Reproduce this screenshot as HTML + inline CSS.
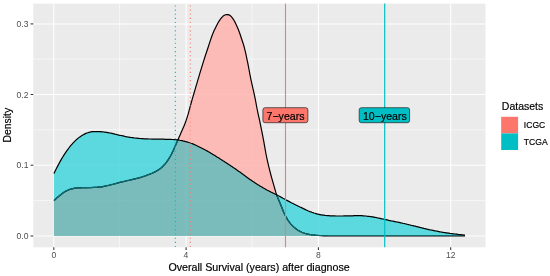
<!DOCTYPE html>
<html><head><meta charset="utf-8">
<style>
html,body{margin:0;padding:0;background:#fff;}
body{width:550px;height:276px;overflow:hidden;}
svg{display:block;}
text{font-family:"Liberation Sans",sans-serif;}
</style></head>
<body>
<svg width="550" height="276" viewBox="0 0 550 276">
<rect x="0" y="0" width="550" height="276" fill="#ffffff"/>
<rect x="33.3" y="3.6" width="452.2" height="243.7" fill="#ebebeb"/>
<g stroke="#ffffff">
<g stroke-width="0.55">
<line x1="33.3" x2="485.5" y1="200.6" y2="200.6"/>
<line x1="33.3" x2="485.5" y1="129.8" y2="129.8"/>
<line x1="33.3" x2="485.5" y1="59.1" y2="59.1"/>
<line x1="119.6" x2="119.6" y1="3.6" y2="247.3"/>
<line x1="252" x2="252" y1="3.6" y2="247.3"/>
<line x1="384.3" x2="384.3" y1="3.6" y2="247.3"/>
</g>
<g stroke-width="1.05">
<line x1="33.3" x2="485.5" y1="236" y2="236"/>
<line x1="33.3" x2="485.5" y1="165.2" y2="165.2"/>
<line x1="33.3" x2="485.5" y1="94.5" y2="94.5"/>
<line x1="33.3" x2="485.5" y1="23.9" y2="23.9"/>
<line x1="53.8" x2="53.8" y1="3.6" y2="247.3"/>
<line x1="186.1" x2="186.1" y1="3.6" y2="247.3"/>
<line x1="318.4" x2="318.4" y1="3.6" y2="247.3"/>
<line x1="450.7" x2="450.7" y1="3.6" y2="247.3"/>
</g>
</g>
<!-- densities -->
<defs>
<clipPath id="ci"><path d="M53.9,236.0 L53.9,200.7 L54.9,199.7 L55.9,198.8 L56.9,197.9 L57.9,197.0 L58.9,196.2 L59.9,195.4 L60.9,194.6 L61.9,193.8 L62.9,193.0 L63.9,192.3 L64.9,191.7 L65.9,191.1 L66.9,190.6 L67.9,190.2 L68.9,189.8 L69.9,189.4 L70.9,189.1 L71.9,188.8 L72.9,188.6 L73.9,188.4 L74.9,188.2 L75.9,188.1 L76.9,188.0 L77.9,187.9 L78.9,187.8 L79.9,187.8 L80.9,187.8 L81.9,187.7 L82.9,187.7 L83.9,187.7 L84.9,187.7 L85.9,187.7 L86.9,187.7 L87.9,187.7 L88.9,187.6 L89.9,187.6 L90.9,187.6 L91.9,187.5 L92.9,187.5 L93.9,187.4 L94.9,187.4 L95.9,187.3 L96.9,187.3 L97.9,187.2 L98.9,187.1 L99.9,187.0 L100.9,186.9 L101.9,186.8 L102.9,186.6 L103.9,186.4 L104.9,186.2 L105.9,186.0 L106.9,185.7 L107.9,185.5 L108.9,185.3 L109.9,185.0 L110.9,184.8 L111.9,184.5 L112.9,184.3 L113.9,184.0 L114.9,183.8 L115.9,183.5 L116.9,183.2 L117.9,182.9 L118.9,182.7 L119.9,182.4 L120.9,182.2 L121.9,181.9 L122.9,181.7 L123.9,181.5 L124.9,181.2 L125.9,181.0 L126.9,180.7 L127.9,180.5 L128.9,180.3 L129.9,180.0 L130.9,179.8 L131.9,179.6 L132.9,179.3 L133.9,179.1 L134.9,178.9 L135.9,178.7 L136.9,178.4 L137.9,178.2 L138.9,177.9 L139.9,177.6 L140.9,177.3 L141.9,177.0 L142.9,176.7 L143.9,176.3 L144.9,176.0 L145.9,175.6 L146.9,175.2 L147.9,174.8 L148.9,174.5 L149.9,174.1 L150.9,173.7 L151.9,173.3 L152.9,172.8 L153.9,172.4 L154.9,171.9 L155.9,171.4 L156.9,170.8 L157.9,170.2 L158.9,169.6 L159.9,168.9 L160.9,168.1 L161.9,167.2 L162.9,166.3 L163.9,165.2 L164.9,164.1 L165.9,162.9 L166.9,161.6 L167.9,160.2 L168.9,158.6 L169.9,157.0 L170.9,155.2 L171.9,153.3 L172.9,151.3 L173.9,149.1 L174.9,146.8 L175.9,144.5 L176.9,142.2 L177.9,139.9 L178.9,137.6 L179.9,135.4 L180.9,133.1 L181.9,130.8 L182.9,128.5 L183.9,126.2 L184.9,123.7 L185.9,121.0 L186.9,118.1 L187.9,114.9 L188.9,111.4 L189.9,107.7 L190.9,104.0 L191.9,100.4 L192.9,96.9 L193.9,93.5 L194.9,90.1 L195.9,86.7 L196.9,83.3 L197.9,79.9 L198.9,76.6 L199.9,73.2 L200.9,69.9 L201.9,66.6 L202.9,63.3 L203.9,60.1 L204.9,57.0 L205.9,54.0 L206.9,51.0 L207.9,48.0 L208.9,44.9 L209.9,41.9 L210.9,38.9 L211.9,36.0 L212.9,33.4 L213.9,31.1 L214.9,29.0 L215.9,26.9 L216.9,24.9 L217.9,23.0 L218.9,21.4 L219.9,19.9 L220.9,18.5 L221.9,17.3 L222.9,16.3 L223.9,15.6 L224.9,15.0 L225.9,14.7 L226.9,14.5 L227.9,14.6 L228.9,14.9 L229.9,15.4 L230.9,16.2 L231.9,17.3 L232.9,18.6 L233.9,20.2 L234.9,21.9 L235.9,24.0 L236.9,26.2 L237.9,28.5 L238.9,31.0 L239.9,33.8 L240.9,36.8 L241.9,39.7 L242.9,42.7 L243.9,46.0 L244.9,49.9 L245.9,54.2 L246.9,58.8 L247.9,63.7 L248.9,69.0 L249.9,74.4 L250.9,79.4 L251.9,83.9 L252.9,88.3 L253.9,92.7 L254.9,97.3 L255.9,102.5 L256.9,108.0 L257.9,112.8 L258.9,117.3 L259.9,121.9 L260.9,126.8 L261.9,131.7 L262.9,136.9 L263.9,142.2 L264.9,147.9 L265.9,153.5 L266.9,158.4 L267.9,162.9 L268.9,167.1 L269.9,171.2 L270.9,175.0 L271.9,178.7 L272.9,182.2 L273.9,185.7 L274.9,189.2 L275.9,192.6 L276.9,195.6 L277.9,198.1 L278.9,200.4 L279.9,202.8 L280.9,205.2 L281.9,207.8 L282.9,210.3 L283.9,212.7 L284.9,214.8 L285.9,216.7 L286.9,218.4 L287.9,220.1 L288.9,221.5 L289.9,222.9 L290.9,224.1 L291.9,225.2 L292.9,226.2 L293.9,227.1 L294.9,227.9 L295.9,228.7 L296.9,229.5 L297.9,230.2 L298.9,230.8 L299.9,231.3 L300.9,231.8 L301.9,232.3 L302.9,232.7 L303.9,233.0 L304.9,233.4 L305.9,233.7 L306.9,233.9 L307.9,234.2 L308.9,234.4 L309.9,234.6 L310.9,234.7 L311.9,234.9 L312.9,235.0 L313.9,235.1 L314.9,235.2 L315.9,235.3 L316.9,235.4 L317.9,235.5 L318.9,235.5 L319.9,235.6 L320.9,235.7 L321.9,235.7 L322.9,235.8 L323.9,235.8 L324.9,235.9 L325.9,235.9 L326.9,235.9 L327.9,236.0 L328.9,236.0 L329.9,236.0 L330.9,236.0 L331.9,236.0 L332.9,236.0 L333.9,236.0 L334.9,236.0 L335.9,236.0 L336.9,236.0 L337.9,236.0 L338.9,236.0 L339.9,236.0 L340.9,236.0 L341.9,236.0 L342.9,236.0 L343.9,236.0 L344.9,236.0 L345.9,236.0 L346.9,236.0 L347.9,236.0 L348.9,236.0 L349.9,236.0 L350.9,236.0 L351.9,236.0 L352.9,236.0 L353.9,236.0 L354.9,236.0 L355.9,236.0 L356.9,236.0 L357.9,236.0 L358.9,236.0 L359.9,236.0 L360.9,236.0 L361.9,236.0 L362.9,236.0 L363.9,236.0 L364.9,236.0 L365.9,236.0 L366.9,236.0 L367.9,236.0 L368.9,236.0 L369.9,236.0 L370.9,236.0 L371.9,236.0 L372.9,236.0 L373.9,236.0 L374.9,236.0 L375.9,236.0 L376.9,236.0 L377.9,236.0 L378.9,236.0 L379.9,236.0 L380.9,236.0 L381.9,236.0 L382.9,236.0 L383.9,236.0 L384.9,236.0 L385.9,236.0 L386.9,236.0 L387.9,236.0 L388.9,236.0 L389.9,236.0 L390.9,236.0 L391.9,236.0 L392.9,236.0 L393.9,236.0 L394.9,236.0 L395.9,236.0 L396.9,236.0 L397.9,236.0 L398.9,236.0 L399.9,236.0 L400.9,236.0 L401.9,236.0 L402.9,236.0 L403.9,236.0 L404.9,236.0 L405.9,236.0 L406.9,236.0 L407.9,236.0 L408.9,236.0 L409.9,236.0 L410.9,236.0 L411.9,236.0 L412.9,236.0 L413.9,236.0 L414.9,236.0 L415.9,236.0 L416.9,236.0 L417.9,236.0 L418.9,236.0 L419.9,236.0 L420.9,236.0 L421.9,236.0 L422.9,236.0 L423.9,236.0 L424.9,236.0 L425.9,236.0 L426.9,236.0 L427.9,236.0 L428.9,236.0 L429.9,236.0 L430.9,236.0 L431.9,236.0 L432.9,236.0 L433.9,236.0 L434.9,236.0 L435.9,236.0 L436.9,236.0 L437.9,236.0 L438.9,236.0 L439.9,236.0 L440.9,236.0 L441.9,236.0 L442.9,236.0 L443.9,236.0 L444.9,236.0 L445.9,236.0 L446.9,236.0 L447.9,236.0 L448.9,236.0 L449.9,236.0 L450.9,236.0 L451.9,236.0 L452.9,236.0 L453.9,236.0 L454.9,236.0 L455.9,236.0 L456.9,236.0 L457.9,236.0 L458.9,236.0 L459.9,236.0 L460.9,236.0 L461.9,236.0 L462.9,236.0 L463.9,236.0 L464.9,236.0 L465.0,236.0 L465.0,236.0 Z"/></clipPath>
<clipPath id="ct"><path d="M53.9,236.0 L53.9,173.6 L54.9,171.5 L55.9,169.5 L56.9,167.5 L57.9,165.6 L58.9,163.7 L59.9,161.9 L60.9,160.1 L61.9,158.4 L62.9,156.7 L63.9,155.1 L64.9,153.6 L65.9,152.1 L66.9,150.7 L67.9,149.3 L68.9,148.0 L69.9,146.7 L70.9,145.4 L71.9,144.3 L72.9,143.2 L73.9,142.1 L74.9,141.1 L75.9,140.1 L76.9,139.2 L77.9,138.4 L78.9,137.6 L79.9,136.9 L80.9,136.2 L81.9,135.6 L82.9,135.0 L83.9,134.4 L84.9,133.9 L85.9,133.4 L86.9,133.0 L87.9,132.7 L88.9,132.4 L89.9,132.2 L90.9,131.9 L91.9,131.7 L92.9,131.6 L93.9,131.6 L94.9,131.6 L95.9,131.6 L96.9,131.6 L97.9,131.6 L98.9,131.6 L99.9,131.6 L100.9,131.7 L101.9,131.8 L102.9,131.9 L103.9,132.0 L104.9,132.1 L105.9,132.3 L106.9,132.4 L107.9,132.6 L108.9,132.8 L109.9,133.0 L110.9,133.2 L111.9,133.4 L112.9,133.6 L113.9,133.8 L114.9,134.1 L115.9,134.3 L116.9,134.6 L117.9,134.8 L118.9,135.1 L119.9,135.3 L120.9,135.5 L121.9,135.7 L122.9,135.9 L123.9,136.1 L124.9,136.4 L125.9,136.6 L126.9,136.8 L127.9,137.0 L128.9,137.1 L129.9,137.3 L130.9,137.5 L131.9,137.6 L132.9,137.7 L133.9,137.9 L134.9,138.0 L135.9,138.1 L136.9,138.2 L137.9,138.3 L138.9,138.4 L139.9,138.5 L140.9,138.6 L141.9,138.7 L142.9,138.7 L143.9,138.8 L144.9,138.8 L145.9,138.9 L146.9,138.9 L147.9,138.9 L148.9,139.0 L149.9,139.0 L150.9,139.0 L151.9,139.1 L152.9,139.1 L153.9,139.1 L154.9,139.1 L155.9,139.1 L156.9,139.1 L157.9,139.2 L158.9,139.2 L159.9,139.2 L160.9,139.2 L161.9,139.2 L162.9,139.2 L163.9,139.2 L164.9,139.3 L165.9,139.3 L166.9,139.3 L167.9,139.3 L168.9,139.4 L169.9,139.4 L170.9,139.4 L171.9,139.5 L172.9,139.5 L173.9,139.6 L174.9,139.6 L175.9,139.7 L176.9,139.8 L177.9,139.9 L178.9,140.0 L179.9,140.3 L180.9,140.5 L181.9,140.7 L182.9,140.9 L183.9,141.2 L184.9,141.4 L185.9,141.7 L186.9,141.9 L187.9,142.2 L188.9,142.5 L189.9,142.8 L190.9,143.2 L191.9,143.5 L192.9,143.9 L193.9,144.4 L194.9,144.8 L195.9,145.3 L196.9,145.8 L197.9,146.2 L198.9,146.7 L199.9,147.2 L200.9,147.7 L201.9,148.2 L202.9,148.7 L203.9,149.2 L204.9,149.8 L205.9,150.3 L206.9,150.9 L207.9,151.4 L208.9,152.0 L209.9,152.6 L210.9,153.2 L211.9,153.8 L212.9,154.4 L213.9,155.0 L214.9,155.6 L215.9,156.2 L216.9,156.9 L217.9,157.5 L218.9,158.1 L219.9,158.8 L220.9,159.4 L221.9,160.0 L222.9,160.7 L223.9,161.3 L224.9,162.0 L225.9,162.6 L226.9,163.3 L227.9,163.9 L228.9,164.6 L229.9,165.2 L230.9,165.9 L231.9,166.6 L232.9,167.3 L233.9,167.9 L234.9,168.6 L235.9,169.3 L236.9,170.0 L237.9,170.7 L238.9,171.4 L239.9,172.1 L240.9,172.8 L241.9,173.6 L242.9,174.3 L243.9,175.1 L244.9,175.8 L245.9,176.5 L246.9,177.3 L247.9,178.0 L248.9,178.7 L249.9,179.4 L250.9,180.1 L251.9,180.8 L252.9,181.5 L253.9,182.1 L254.9,182.8 L255.9,183.4 L256.9,184.1 L257.9,184.7 L258.9,185.3 L259.9,185.9 L260.9,186.5 L261.9,187.1 L262.9,187.7 L263.9,188.3 L264.9,188.8 L265.9,189.4 L266.9,190.0 L267.9,190.5 L268.9,191.0 L269.9,191.5 L270.9,192.1 L271.9,192.5 L272.9,193.0 L273.9,193.5 L274.9,194.0 L275.9,194.5 L276.9,194.9 L277.9,195.5 L278.9,196.0 L279.9,196.5 L280.9,197.1 L281.9,197.6 L282.9,198.2 L283.9,198.7 L284.9,199.3 L285.9,199.8 L286.9,200.4 L287.9,200.9 L288.9,201.4 L289.9,201.9 L290.9,202.5 L291.9,203.0 L292.9,203.5 L293.9,204.0 L294.9,204.5 L295.9,205.0 L296.9,205.5 L297.9,206.0 L298.9,206.5 L299.9,207.0 L300.9,207.4 L301.9,207.9 L302.9,208.4 L303.9,208.9 L304.9,209.4 L305.9,209.9 L306.9,210.3 L307.9,210.8 L308.9,211.2 L309.9,211.6 L310.9,211.9 L311.9,212.3 L312.9,212.6 L313.9,213.0 L314.9,213.3 L315.9,213.6 L316.9,213.9 L317.9,214.2 L318.9,214.4 L319.9,214.6 L320.9,214.8 L321.9,214.9 L322.9,215.1 L323.9,215.2 L324.9,215.4 L325.9,215.5 L326.9,215.6 L327.9,215.7 L328.9,215.7 L329.9,215.8 L330.9,215.8 L331.9,215.9 L332.9,215.9 L333.9,215.9 L334.9,215.9 L335.9,216.0 L336.9,216.0 L337.9,216.0 L338.9,216.0 L339.9,216.0 L340.9,216.0 L341.9,216.0 L342.9,216.0 L343.9,215.9 L344.9,215.9 L345.9,215.9 L346.9,215.9 L347.9,215.8 L348.9,215.8 L349.9,215.8 L350.9,215.8 L351.9,215.8 L352.9,215.8 L353.9,215.7 L354.9,215.7 L355.9,215.7 L356.9,215.7 L357.9,215.7 L358.9,215.7 L359.9,215.7 L360.9,215.7 L361.9,215.7 L362.9,215.8 L363.9,215.9 L364.9,216.0 L365.9,216.0 L366.9,216.2 L367.9,216.3 L368.9,216.4 L369.9,216.5 L370.9,216.6 L371.9,216.8 L372.9,216.9 L373.9,217.1 L374.9,217.3 L375.9,217.5 L376.9,217.7 L377.9,218.0 L378.9,218.2 L379.9,218.4 L380.9,218.6 L381.9,218.8 L382.9,219.0 L383.9,219.2 L384.9,219.5 L385.9,219.7 L386.9,219.9 L387.9,220.1 L388.9,220.4 L389.9,220.6 L390.9,220.8 L391.9,221.0 L392.9,221.2 L393.9,221.4 L394.9,221.6 L395.9,221.8 L396.9,222.0 L397.9,222.2 L398.9,222.4 L399.9,222.6 L400.9,222.8 L401.9,223.0 L402.9,223.3 L403.9,223.5 L404.9,223.7 L405.9,224.0 L406.9,224.2 L407.9,224.5 L408.9,224.7 L409.9,225.0 L410.9,225.2 L411.9,225.5 L412.9,225.7 L413.9,225.9 L414.9,226.2 L415.9,226.4 L416.9,226.7 L417.9,226.9 L418.9,227.1 L419.9,227.4 L420.9,227.6 L421.9,227.9 L422.9,228.1 L423.9,228.4 L424.9,228.6 L425.9,228.8 L426.9,229.1 L427.9,229.3 L428.9,229.6 L429.9,229.8 L430.9,230.0 L431.9,230.2 L432.9,230.4 L433.9,230.6 L434.9,230.8 L435.9,231.0 L436.9,231.2 L437.9,231.4 L438.9,231.6 L439.9,231.8 L440.9,232.0 L441.9,232.1 L442.9,232.3 L443.9,232.5 L444.9,232.6 L445.9,232.8 L446.9,232.9 L447.9,233.1 L448.9,233.2 L449.9,233.4 L450.9,233.5 L451.9,233.6 L452.9,233.8 L453.9,233.9 L454.9,234.0 L455.9,234.1 L456.9,234.2 L457.9,234.4 L458.9,234.5 L459.9,234.6 L460.9,234.7 L461.9,234.8 L462.9,234.9 L463.9,235.1 L464.9,235.2 L465.0,235.2 L465.0,236.0 Z"/></clipPath>
<clipPath id="cu"><path d="M53.9,236.0 L53.9,200.7 L54.9,199.7 L55.9,198.8 L56.9,197.9 L57.9,197.0 L58.9,196.2 L59.9,195.4 L60.9,194.6 L61.9,193.8 L62.9,193.0 L63.9,192.3 L64.9,191.7 L65.9,191.1 L66.9,190.6 L67.9,190.2 L68.9,189.8 L69.9,189.4 L70.9,189.1 L71.9,188.8 L72.9,188.6 L73.9,188.4 L74.9,188.2 L75.9,188.1 L76.9,188.0 L77.9,187.9 L78.9,187.8 L79.9,187.8 L80.9,187.8 L81.9,187.7 L82.9,187.7 L83.9,187.7 L84.9,187.7 L85.9,187.7 L86.9,187.7 L87.9,187.7 L88.9,187.6 L89.9,187.6 L90.9,187.6 L91.9,187.5 L92.9,187.5 L93.9,187.4 L94.9,187.4 L95.9,187.3 L96.9,187.3 L97.9,187.2 L98.9,187.1 L99.9,187.0 L100.9,186.9 L101.9,186.8 L102.9,186.6 L103.9,186.4 L104.9,186.2 L105.9,186.0 L106.9,185.7 L107.9,185.5 L108.9,185.3 L109.9,185.0 L110.9,184.8 L111.9,184.5 L112.9,184.3 L113.9,184.0 L114.9,183.8 L115.9,183.5 L116.9,183.2 L117.9,182.9 L118.9,182.7 L119.9,182.4 L120.9,182.2 L121.9,181.9 L122.9,181.7 L123.9,181.5 L124.9,181.2 L125.9,181.0 L126.9,180.7 L127.9,180.5 L128.9,180.3 L129.9,180.0 L130.9,179.8 L131.9,179.6 L132.9,179.3 L133.9,179.1 L134.9,178.9 L135.9,178.7 L136.9,178.4 L137.9,178.2 L138.9,177.9 L139.9,177.6 L140.9,177.3 L141.9,177.0 L142.9,176.7 L143.9,176.3 L144.9,176.0 L145.9,175.6 L146.9,175.2 L147.9,174.8 L148.9,174.5 L149.9,174.1 L150.9,173.7 L151.9,173.3 L152.9,172.8 L153.9,172.4 L154.9,171.9 L155.9,171.4 L156.9,170.8 L157.9,170.2 L158.9,169.6 L159.9,168.9 L160.9,168.1 L161.9,167.2 L162.9,166.3 L163.9,165.2 L164.9,164.1 L165.9,162.9 L166.9,161.6 L167.9,160.2 L168.9,158.6 L169.9,157.0 L170.9,155.2 L171.9,153.3 L172.9,151.3 L173.9,149.1 L174.9,146.8 L175.9,144.5 L176.9,142.2 L177.9,139.9 L178.9,137.6 L179.9,135.4 L180.9,133.1 L181.9,130.8 L182.9,128.5 L183.9,126.2 L184.9,123.7 L185.9,121.0 L186.9,118.1 L187.9,114.9 L188.9,111.4 L189.9,107.7 L190.9,104.0 L191.9,100.4 L192.9,96.9 L193.9,93.5 L194.9,90.1 L195.9,86.7 L196.9,83.3 L197.9,79.9 L198.9,76.6 L199.9,73.2 L200.9,69.9 L201.9,66.6 L202.9,63.3 L203.9,60.1 L204.9,57.0 L205.9,54.0 L206.9,51.0 L207.9,48.0 L208.9,44.9 L209.9,41.9 L210.9,38.9 L211.9,36.0 L212.9,33.4 L213.9,31.1 L214.9,29.0 L215.9,26.9 L216.9,24.9 L217.9,23.0 L218.9,21.4 L219.9,19.9 L220.9,18.5 L221.9,17.3 L222.9,16.3 L223.9,15.6 L224.9,15.0 L225.9,14.7 L226.9,14.5 L227.9,14.6 L228.9,14.9 L229.9,15.4 L230.9,16.2 L231.9,17.3 L232.9,18.6 L233.9,20.2 L234.9,21.9 L235.9,24.0 L236.9,26.2 L237.9,28.5 L238.9,31.0 L239.9,33.8 L240.9,36.8 L241.9,39.7 L242.9,42.7 L243.9,46.0 L244.9,49.9 L245.9,54.2 L246.9,58.8 L247.9,63.7 L248.9,69.0 L249.9,74.4 L250.9,79.4 L251.9,83.9 L252.9,88.3 L253.9,92.7 L254.9,97.3 L255.9,102.5 L256.9,108.0 L257.9,112.8 L258.9,117.3 L259.9,121.9 L260.9,126.8 L261.9,131.7 L262.9,136.9 L263.9,142.2 L264.9,147.9 L265.9,153.5 L266.9,158.4 L267.9,162.9 L268.9,167.1 L269.9,171.2 L270.9,175.0 L271.9,178.7 L272.9,182.2 L273.9,185.7 L274.9,189.2 L275.9,192.6 L276.9,195.6 L277.9,198.1 L278.9,200.4 L279.9,202.8 L280.9,205.2 L281.9,207.8 L282.9,210.3 L283.9,212.7 L284.9,214.8 L285.9,216.7 L286.9,218.4 L287.9,220.1 L288.9,221.5 L289.9,222.9 L290.9,224.1 L291.9,225.2 L292.9,226.2 L293.9,227.1 L294.9,227.9 L295.9,228.7 L296.9,229.5 L297.9,230.2 L298.9,230.8 L299.9,231.3 L300.9,231.8 L301.9,232.3 L302.9,232.7 L303.9,233.0 L304.9,233.4 L305.9,233.7 L306.9,233.9 L307.9,234.2 L308.9,234.4 L309.9,234.6 L310.9,234.7 L311.9,234.9 L312.9,235.0 L313.9,235.1 L314.9,235.2 L315.9,235.3 L316.9,235.4 L317.9,235.5 L318.9,235.5 L319.9,235.6 L320.9,235.7 L321.9,235.7 L322.9,235.8 L323.9,235.8 L324.9,235.9 L325.9,235.9 L326.9,235.9 L327.9,236.0 L328.9,236.0 L329.9,236.0 L330.9,236.0 L331.9,236.0 L332.9,236.0 L333.9,236.0 L334.9,236.0 L335.9,236.0 L336.9,236.0 L337.9,236.0 L338.9,236.0 L339.9,236.0 L340.9,236.0 L341.9,236.0 L342.9,236.0 L343.9,236.0 L344.9,236.0 L345.9,236.0 L346.9,236.0 L347.9,236.0 L348.9,236.0 L349.9,236.0 L350.9,236.0 L351.9,236.0 L352.9,236.0 L353.9,236.0 L354.9,236.0 L355.9,236.0 L356.9,236.0 L357.9,236.0 L358.9,236.0 L359.9,236.0 L360.9,236.0 L361.9,236.0 L362.9,236.0 L363.9,236.0 L364.9,236.0 L365.9,236.0 L366.9,236.0 L367.9,236.0 L368.9,236.0 L369.9,236.0 L370.9,236.0 L371.9,236.0 L372.9,236.0 L373.9,236.0 L374.9,236.0 L375.9,236.0 L376.9,236.0 L377.9,236.0 L378.9,236.0 L379.9,236.0 L380.9,236.0 L381.9,236.0 L382.9,236.0 L383.9,236.0 L384.9,236.0 L385.9,236.0 L386.9,236.0 L387.9,236.0 L388.9,236.0 L389.9,236.0 L390.9,236.0 L391.9,236.0 L392.9,236.0 L393.9,236.0 L394.9,236.0 L395.9,236.0 L396.9,236.0 L397.9,236.0 L398.9,236.0 L399.9,236.0 L400.9,236.0 L401.9,236.0 L402.9,236.0 L403.9,236.0 L404.9,236.0 L405.9,236.0 L406.9,236.0 L407.9,236.0 L408.9,236.0 L409.9,236.0 L410.9,236.0 L411.9,236.0 L412.9,236.0 L413.9,236.0 L414.9,236.0 L415.9,236.0 L416.9,236.0 L417.9,236.0 L418.9,236.0 L419.9,236.0 L420.9,236.0 L421.9,236.0 L422.9,236.0 L423.9,236.0 L424.9,236.0 L425.9,236.0 L426.9,236.0 L427.9,236.0 L428.9,236.0 L429.9,236.0 L430.9,236.0 L431.9,236.0 L432.9,236.0 L433.9,236.0 L434.9,236.0 L435.9,236.0 L436.9,236.0 L437.9,236.0 L438.9,236.0 L439.9,236.0 L440.9,236.0 L441.9,236.0 L442.9,236.0 L443.9,236.0 L444.9,236.0 L445.9,236.0 L446.9,236.0 L447.9,236.0 L448.9,236.0 L449.9,236.0 L450.9,236.0 L451.9,236.0 L452.9,236.0 L453.9,236.0 L454.9,236.0 L455.9,236.0 L456.9,236.0 L457.9,236.0 L458.9,236.0 L459.9,236.0 L460.9,236.0 L461.9,236.0 L462.9,236.0 L463.9,236.0 L464.9,236.0 L465.0,236.0 L465.0,236.0 Z"/><path d="M53.9,236.0 L53.9,173.6 L54.9,171.5 L55.9,169.5 L56.9,167.5 L57.9,165.6 L58.9,163.7 L59.9,161.9 L60.9,160.1 L61.9,158.4 L62.9,156.7 L63.9,155.1 L64.9,153.6 L65.9,152.1 L66.9,150.7 L67.9,149.3 L68.9,148.0 L69.9,146.7 L70.9,145.4 L71.9,144.3 L72.9,143.2 L73.9,142.1 L74.9,141.1 L75.9,140.1 L76.9,139.2 L77.9,138.4 L78.9,137.6 L79.9,136.9 L80.9,136.2 L81.9,135.6 L82.9,135.0 L83.9,134.4 L84.9,133.9 L85.9,133.4 L86.9,133.0 L87.9,132.7 L88.9,132.4 L89.9,132.2 L90.9,131.9 L91.9,131.7 L92.9,131.6 L93.9,131.6 L94.9,131.6 L95.9,131.6 L96.9,131.6 L97.9,131.6 L98.9,131.6 L99.9,131.6 L100.9,131.7 L101.9,131.8 L102.9,131.9 L103.9,132.0 L104.9,132.1 L105.9,132.3 L106.9,132.4 L107.9,132.6 L108.9,132.8 L109.9,133.0 L110.9,133.2 L111.9,133.4 L112.9,133.6 L113.9,133.8 L114.9,134.1 L115.9,134.3 L116.9,134.6 L117.9,134.8 L118.9,135.1 L119.9,135.3 L120.9,135.5 L121.9,135.7 L122.9,135.9 L123.9,136.1 L124.9,136.4 L125.9,136.6 L126.9,136.8 L127.9,137.0 L128.9,137.1 L129.9,137.3 L130.9,137.5 L131.9,137.6 L132.9,137.7 L133.9,137.9 L134.9,138.0 L135.9,138.1 L136.9,138.2 L137.9,138.3 L138.9,138.4 L139.9,138.5 L140.9,138.6 L141.9,138.7 L142.9,138.7 L143.9,138.8 L144.9,138.8 L145.9,138.9 L146.9,138.9 L147.9,138.9 L148.9,139.0 L149.9,139.0 L150.9,139.0 L151.9,139.1 L152.9,139.1 L153.9,139.1 L154.9,139.1 L155.9,139.1 L156.9,139.1 L157.9,139.2 L158.9,139.2 L159.9,139.2 L160.9,139.2 L161.9,139.2 L162.9,139.2 L163.9,139.2 L164.9,139.3 L165.9,139.3 L166.9,139.3 L167.9,139.3 L168.9,139.4 L169.9,139.4 L170.9,139.4 L171.9,139.5 L172.9,139.5 L173.9,139.6 L174.9,139.6 L175.9,139.7 L176.9,139.8 L177.9,139.9 L178.9,140.0 L179.9,140.3 L180.9,140.5 L181.9,140.7 L182.9,140.9 L183.9,141.2 L184.9,141.4 L185.9,141.7 L186.9,141.9 L187.9,142.2 L188.9,142.5 L189.9,142.8 L190.9,143.2 L191.9,143.5 L192.9,143.9 L193.9,144.4 L194.9,144.8 L195.9,145.3 L196.9,145.8 L197.9,146.2 L198.9,146.7 L199.9,147.2 L200.9,147.7 L201.9,148.2 L202.9,148.7 L203.9,149.2 L204.9,149.8 L205.9,150.3 L206.9,150.9 L207.9,151.4 L208.9,152.0 L209.9,152.6 L210.9,153.2 L211.9,153.8 L212.9,154.4 L213.9,155.0 L214.9,155.6 L215.9,156.2 L216.9,156.9 L217.9,157.5 L218.9,158.1 L219.9,158.8 L220.9,159.4 L221.9,160.0 L222.9,160.7 L223.9,161.3 L224.9,162.0 L225.9,162.6 L226.9,163.3 L227.9,163.9 L228.9,164.6 L229.9,165.2 L230.9,165.9 L231.9,166.6 L232.9,167.3 L233.9,167.9 L234.9,168.6 L235.9,169.3 L236.9,170.0 L237.9,170.7 L238.9,171.4 L239.9,172.1 L240.9,172.8 L241.9,173.6 L242.9,174.3 L243.9,175.1 L244.9,175.8 L245.9,176.5 L246.9,177.3 L247.9,178.0 L248.9,178.7 L249.9,179.4 L250.9,180.1 L251.9,180.8 L252.9,181.5 L253.9,182.1 L254.9,182.8 L255.9,183.4 L256.9,184.1 L257.9,184.7 L258.9,185.3 L259.9,185.9 L260.9,186.5 L261.9,187.1 L262.9,187.7 L263.9,188.3 L264.9,188.8 L265.9,189.4 L266.9,190.0 L267.9,190.5 L268.9,191.0 L269.9,191.5 L270.9,192.1 L271.9,192.5 L272.9,193.0 L273.9,193.5 L274.9,194.0 L275.9,194.5 L276.9,194.9 L277.9,195.5 L278.9,196.0 L279.9,196.5 L280.9,197.1 L281.9,197.6 L282.9,198.2 L283.9,198.7 L284.9,199.3 L285.9,199.8 L286.9,200.4 L287.9,200.9 L288.9,201.4 L289.9,201.9 L290.9,202.5 L291.9,203.0 L292.9,203.5 L293.9,204.0 L294.9,204.5 L295.9,205.0 L296.9,205.5 L297.9,206.0 L298.9,206.5 L299.9,207.0 L300.9,207.4 L301.9,207.9 L302.9,208.4 L303.9,208.9 L304.9,209.4 L305.9,209.9 L306.9,210.3 L307.9,210.8 L308.9,211.2 L309.9,211.6 L310.9,211.9 L311.9,212.3 L312.9,212.6 L313.9,213.0 L314.9,213.3 L315.9,213.6 L316.9,213.9 L317.9,214.2 L318.9,214.4 L319.9,214.6 L320.9,214.8 L321.9,214.9 L322.9,215.1 L323.9,215.2 L324.9,215.4 L325.9,215.5 L326.9,215.6 L327.9,215.7 L328.9,215.7 L329.9,215.8 L330.9,215.8 L331.9,215.9 L332.9,215.9 L333.9,215.9 L334.9,215.9 L335.9,216.0 L336.9,216.0 L337.9,216.0 L338.9,216.0 L339.9,216.0 L340.9,216.0 L341.9,216.0 L342.9,216.0 L343.9,215.9 L344.9,215.9 L345.9,215.9 L346.9,215.9 L347.9,215.8 L348.9,215.8 L349.9,215.8 L350.9,215.8 L351.9,215.8 L352.9,215.8 L353.9,215.7 L354.9,215.7 L355.9,215.7 L356.9,215.7 L357.9,215.7 L358.9,215.7 L359.9,215.7 L360.9,215.7 L361.9,215.7 L362.9,215.8 L363.9,215.9 L364.9,216.0 L365.9,216.0 L366.9,216.2 L367.9,216.3 L368.9,216.4 L369.9,216.5 L370.9,216.6 L371.9,216.8 L372.9,216.9 L373.9,217.1 L374.9,217.3 L375.9,217.5 L376.9,217.7 L377.9,218.0 L378.9,218.2 L379.9,218.4 L380.9,218.6 L381.9,218.8 L382.9,219.0 L383.9,219.2 L384.9,219.5 L385.9,219.7 L386.9,219.9 L387.9,220.1 L388.9,220.4 L389.9,220.6 L390.9,220.8 L391.9,221.0 L392.9,221.2 L393.9,221.4 L394.9,221.6 L395.9,221.8 L396.9,222.0 L397.9,222.2 L398.9,222.4 L399.9,222.6 L400.9,222.8 L401.9,223.0 L402.9,223.3 L403.9,223.5 L404.9,223.7 L405.9,224.0 L406.9,224.2 L407.9,224.5 L408.9,224.7 L409.9,225.0 L410.9,225.2 L411.9,225.5 L412.9,225.7 L413.9,225.9 L414.9,226.2 L415.9,226.4 L416.9,226.7 L417.9,226.9 L418.9,227.1 L419.9,227.4 L420.9,227.6 L421.9,227.9 L422.9,228.1 L423.9,228.4 L424.9,228.6 L425.9,228.8 L426.9,229.1 L427.9,229.3 L428.9,229.6 L429.9,229.8 L430.9,230.0 L431.9,230.2 L432.9,230.4 L433.9,230.6 L434.9,230.8 L435.9,231.0 L436.9,231.2 L437.9,231.4 L438.9,231.6 L439.9,231.8 L440.9,232.0 L441.9,232.1 L442.9,232.3 L443.9,232.5 L444.9,232.6 L445.9,232.8 L446.9,232.9 L447.9,233.1 L448.9,233.2 L449.9,233.4 L450.9,233.5 L451.9,233.6 L452.9,233.8 L453.9,233.9 L454.9,234.0 L455.9,234.1 L456.9,234.2 L457.9,234.4 L458.9,234.5 L459.9,234.6 L460.9,234.7 L461.9,234.8 L462.9,234.9 L463.9,235.1 L464.9,235.2 L465.0,235.2 L465.0,236.0 Z"/></clipPath>
</defs>
<path d="M53.9,236.0 L53.9,200.7 L54.9,199.7 L55.9,198.8 L56.9,197.9 L57.9,197.0 L58.9,196.2 L59.9,195.4 L60.9,194.6 L61.9,193.8 L62.9,193.0 L63.9,192.3 L64.9,191.7 L65.9,191.1 L66.9,190.6 L67.9,190.2 L68.9,189.8 L69.9,189.4 L70.9,189.1 L71.9,188.8 L72.9,188.6 L73.9,188.4 L74.9,188.2 L75.9,188.1 L76.9,188.0 L77.9,187.9 L78.9,187.8 L79.9,187.8 L80.9,187.8 L81.9,187.7 L82.9,187.7 L83.9,187.7 L84.9,187.7 L85.9,187.7 L86.9,187.7 L87.9,187.7 L88.9,187.6 L89.9,187.6 L90.9,187.6 L91.9,187.5 L92.9,187.5 L93.9,187.4 L94.9,187.4 L95.9,187.3 L96.9,187.3 L97.9,187.2 L98.9,187.1 L99.9,187.0 L100.9,186.9 L101.9,186.8 L102.9,186.6 L103.9,186.4 L104.9,186.2 L105.9,186.0 L106.9,185.7 L107.9,185.5 L108.9,185.3 L109.9,185.0 L110.9,184.8 L111.9,184.5 L112.9,184.3 L113.9,184.0 L114.9,183.8 L115.9,183.5 L116.9,183.2 L117.9,182.9 L118.9,182.7 L119.9,182.4 L120.9,182.2 L121.9,181.9 L122.9,181.7 L123.9,181.5 L124.9,181.2 L125.9,181.0 L126.9,180.7 L127.9,180.5 L128.9,180.3 L129.9,180.0 L130.9,179.8 L131.9,179.6 L132.9,179.3 L133.9,179.1 L134.9,178.9 L135.9,178.7 L136.9,178.4 L137.9,178.2 L138.9,177.9 L139.9,177.6 L140.9,177.3 L141.9,177.0 L142.9,176.7 L143.9,176.3 L144.9,176.0 L145.9,175.6 L146.9,175.2 L147.9,174.8 L148.9,174.5 L149.9,174.1 L150.9,173.7 L151.9,173.3 L152.9,172.8 L153.9,172.4 L154.9,171.9 L155.9,171.4 L156.9,170.8 L157.9,170.2 L158.9,169.6 L159.9,168.9 L160.9,168.1 L161.9,167.2 L162.9,166.3 L163.9,165.2 L164.9,164.1 L165.9,162.9 L166.9,161.6 L167.9,160.2 L168.9,158.6 L169.9,157.0 L170.9,155.2 L171.9,153.3 L172.9,151.3 L173.9,149.1 L174.9,146.8 L175.9,144.5 L176.9,142.2 L177.9,139.9 L178.9,137.6 L179.9,135.4 L180.9,133.1 L181.9,130.8 L182.9,128.5 L183.9,126.2 L184.9,123.7 L185.9,121.0 L186.9,118.1 L187.9,114.9 L188.9,111.4 L189.9,107.7 L190.9,104.0 L191.9,100.4 L192.9,96.9 L193.9,93.5 L194.9,90.1 L195.9,86.7 L196.9,83.3 L197.9,79.9 L198.9,76.6 L199.9,73.2 L200.9,69.9 L201.9,66.6 L202.9,63.3 L203.9,60.1 L204.9,57.0 L205.9,54.0 L206.9,51.0 L207.9,48.0 L208.9,44.9 L209.9,41.9 L210.9,38.9 L211.9,36.0 L212.9,33.4 L213.9,31.1 L214.9,29.0 L215.9,26.9 L216.9,24.9 L217.9,23.0 L218.9,21.4 L219.9,19.9 L220.9,18.5 L221.9,17.3 L222.9,16.3 L223.9,15.6 L224.9,15.0 L225.9,14.7 L226.9,14.5 L227.9,14.6 L228.9,14.9 L229.9,15.4 L230.9,16.2 L231.9,17.3 L232.9,18.6 L233.9,20.2 L234.9,21.9 L235.9,24.0 L236.9,26.2 L237.9,28.5 L238.9,31.0 L239.9,33.8 L240.9,36.8 L241.9,39.7 L242.9,42.7 L243.9,46.0 L244.9,49.9 L245.9,54.2 L246.9,58.8 L247.9,63.7 L248.9,69.0 L249.9,74.4 L250.9,79.4 L251.9,83.9 L252.9,88.3 L253.9,92.7 L254.9,97.3 L255.9,102.5 L256.9,108.0 L257.9,112.8 L258.9,117.3 L259.9,121.9 L260.9,126.8 L261.9,131.7 L262.9,136.9 L263.9,142.2 L264.9,147.9 L265.9,153.5 L266.9,158.4 L267.9,162.9 L268.9,167.1 L269.9,171.2 L270.9,175.0 L271.9,178.7 L272.9,182.2 L273.9,185.7 L274.9,189.2 L275.9,192.6 L276.9,195.6 L277.9,198.1 L278.9,200.4 L279.9,202.8 L280.9,205.2 L281.9,207.8 L282.9,210.3 L283.9,212.7 L284.9,214.8 L285.9,216.7 L286.9,218.4 L287.9,220.1 L288.9,221.5 L289.9,222.9 L290.9,224.1 L291.9,225.2 L292.9,226.2 L293.9,227.1 L294.9,227.9 L295.9,228.7 L296.9,229.5 L297.9,230.2 L298.9,230.8 L299.9,231.3 L300.9,231.8 L301.9,232.3 L302.9,232.7 L303.9,233.0 L304.9,233.4 L305.9,233.7 L306.9,233.9 L307.9,234.2 L308.9,234.4 L309.9,234.6 L310.9,234.7 L311.9,234.9 L312.9,235.0 L313.9,235.1 L314.9,235.2 L315.9,235.3 L316.9,235.4 L317.9,235.5 L318.9,235.5 L319.9,235.6 L320.9,235.7 L321.9,235.7 L322.9,235.8 L323.9,235.8 L324.9,235.9 L325.9,235.9 L326.9,235.9 L327.9,236.0 L328.9,236.0 L329.9,236.0 L330.9,236.0 L331.9,236.0 L332.9,236.0 L333.9,236.0 L334.9,236.0 L335.9,236.0 L336.9,236.0 L337.9,236.0 L338.9,236.0 L339.9,236.0 L340.9,236.0 L341.9,236.0 L342.9,236.0 L343.9,236.0 L344.9,236.0 L345.9,236.0 L346.9,236.0 L347.9,236.0 L348.9,236.0 L349.9,236.0 L350.9,236.0 L351.9,236.0 L352.9,236.0 L353.9,236.0 L354.9,236.0 L355.9,236.0 L356.9,236.0 L357.9,236.0 L358.9,236.0 L359.9,236.0 L360.9,236.0 L361.9,236.0 L362.9,236.0 L363.9,236.0 L364.9,236.0 L365.9,236.0 L366.9,236.0 L367.9,236.0 L368.9,236.0 L369.9,236.0 L370.9,236.0 L371.9,236.0 L372.9,236.0 L373.9,236.0 L374.9,236.0 L375.9,236.0 L376.9,236.0 L377.9,236.0 L378.9,236.0 L379.9,236.0 L380.9,236.0 L381.9,236.0 L382.9,236.0 L383.9,236.0 L384.9,236.0 L385.9,236.0 L386.9,236.0 L387.9,236.0 L388.9,236.0 L389.9,236.0 L390.9,236.0 L391.9,236.0 L392.9,236.0 L393.9,236.0 L394.9,236.0 L395.9,236.0 L396.9,236.0 L397.9,236.0 L398.9,236.0 L399.9,236.0 L400.9,236.0 L401.9,236.0 L402.9,236.0 L403.9,236.0 L404.9,236.0 L405.9,236.0 L406.9,236.0 L407.9,236.0 L408.9,236.0 L409.9,236.0 L410.9,236.0 L411.9,236.0 L412.9,236.0 L413.9,236.0 L414.9,236.0 L415.9,236.0 L416.9,236.0 L417.9,236.0 L418.9,236.0 L419.9,236.0 L420.9,236.0 L421.9,236.0 L422.9,236.0 L423.9,236.0 L424.9,236.0 L425.9,236.0 L426.9,236.0 L427.9,236.0 L428.9,236.0 L429.9,236.0 L430.9,236.0 L431.9,236.0 L432.9,236.0 L433.9,236.0 L434.9,236.0 L435.9,236.0 L436.9,236.0 L437.9,236.0 L438.9,236.0 L439.9,236.0 L440.9,236.0 L441.9,236.0 L442.9,236.0 L443.9,236.0 L444.9,236.0 L445.9,236.0 L446.9,236.0 L447.9,236.0 L448.9,236.0 L449.9,236.0 L450.9,236.0 L451.9,236.0 L452.9,236.0 L453.9,236.0 L454.9,236.0 L455.9,236.0 L456.9,236.0 L457.9,236.0 L458.9,236.0 L459.9,236.0 L460.9,236.0 L461.9,236.0 L462.9,236.0 L463.9,236.0 L464.9,236.0 L465.0,236.0 L465.0,236.0 Z" fill="#FDBBB7"/>
<path d="M53.9,236.0 L53.9,173.6 L54.9,171.5 L55.9,169.5 L56.9,167.5 L57.9,165.6 L58.9,163.7 L59.9,161.9 L60.9,160.1 L61.9,158.4 L62.9,156.7 L63.9,155.1 L64.9,153.6 L65.9,152.1 L66.9,150.7 L67.9,149.3 L68.9,148.0 L69.9,146.7 L70.9,145.4 L71.9,144.3 L72.9,143.2 L73.9,142.1 L74.9,141.1 L75.9,140.1 L76.9,139.2 L77.9,138.4 L78.9,137.6 L79.9,136.9 L80.9,136.2 L81.9,135.6 L82.9,135.0 L83.9,134.4 L84.9,133.9 L85.9,133.4 L86.9,133.0 L87.9,132.7 L88.9,132.4 L89.9,132.2 L90.9,131.9 L91.9,131.7 L92.9,131.6 L93.9,131.6 L94.9,131.6 L95.9,131.6 L96.9,131.6 L97.9,131.6 L98.9,131.6 L99.9,131.6 L100.9,131.7 L101.9,131.8 L102.9,131.9 L103.9,132.0 L104.9,132.1 L105.9,132.3 L106.9,132.4 L107.9,132.6 L108.9,132.8 L109.9,133.0 L110.9,133.2 L111.9,133.4 L112.9,133.6 L113.9,133.8 L114.9,134.1 L115.9,134.3 L116.9,134.6 L117.9,134.8 L118.9,135.1 L119.9,135.3 L120.9,135.5 L121.9,135.7 L122.9,135.9 L123.9,136.1 L124.9,136.4 L125.9,136.6 L126.9,136.8 L127.9,137.0 L128.9,137.1 L129.9,137.3 L130.9,137.5 L131.9,137.6 L132.9,137.7 L133.9,137.9 L134.9,138.0 L135.9,138.1 L136.9,138.2 L137.9,138.3 L138.9,138.4 L139.9,138.5 L140.9,138.6 L141.9,138.7 L142.9,138.7 L143.9,138.8 L144.9,138.8 L145.9,138.9 L146.9,138.9 L147.9,138.9 L148.9,139.0 L149.9,139.0 L150.9,139.0 L151.9,139.1 L152.9,139.1 L153.9,139.1 L154.9,139.1 L155.9,139.1 L156.9,139.1 L157.9,139.2 L158.9,139.2 L159.9,139.2 L160.9,139.2 L161.9,139.2 L162.9,139.2 L163.9,139.2 L164.9,139.3 L165.9,139.3 L166.9,139.3 L167.9,139.3 L168.9,139.4 L169.9,139.4 L170.9,139.4 L171.9,139.5 L172.9,139.5 L173.9,139.6 L174.9,139.6 L175.9,139.7 L176.9,139.8 L177.9,139.9 L178.9,140.0 L179.9,140.3 L180.9,140.5 L181.9,140.7 L182.9,140.9 L183.9,141.2 L184.9,141.4 L185.9,141.7 L186.9,141.9 L187.9,142.2 L188.9,142.5 L189.9,142.8 L190.9,143.2 L191.9,143.5 L192.9,143.9 L193.9,144.4 L194.9,144.8 L195.9,145.3 L196.9,145.8 L197.9,146.2 L198.9,146.7 L199.9,147.2 L200.9,147.7 L201.9,148.2 L202.9,148.7 L203.9,149.2 L204.9,149.8 L205.9,150.3 L206.9,150.9 L207.9,151.4 L208.9,152.0 L209.9,152.6 L210.9,153.2 L211.9,153.8 L212.9,154.4 L213.9,155.0 L214.9,155.6 L215.9,156.2 L216.9,156.9 L217.9,157.5 L218.9,158.1 L219.9,158.8 L220.9,159.4 L221.9,160.0 L222.9,160.7 L223.9,161.3 L224.9,162.0 L225.9,162.6 L226.9,163.3 L227.9,163.9 L228.9,164.6 L229.9,165.2 L230.9,165.9 L231.9,166.6 L232.9,167.3 L233.9,167.9 L234.9,168.6 L235.9,169.3 L236.9,170.0 L237.9,170.7 L238.9,171.4 L239.9,172.1 L240.9,172.8 L241.9,173.6 L242.9,174.3 L243.9,175.1 L244.9,175.8 L245.9,176.5 L246.9,177.3 L247.9,178.0 L248.9,178.7 L249.9,179.4 L250.9,180.1 L251.9,180.8 L252.9,181.5 L253.9,182.1 L254.9,182.8 L255.9,183.4 L256.9,184.1 L257.9,184.7 L258.9,185.3 L259.9,185.9 L260.9,186.5 L261.9,187.1 L262.9,187.7 L263.9,188.3 L264.9,188.8 L265.9,189.4 L266.9,190.0 L267.9,190.5 L268.9,191.0 L269.9,191.5 L270.9,192.1 L271.9,192.5 L272.9,193.0 L273.9,193.5 L274.9,194.0 L275.9,194.5 L276.9,194.9 L277.9,195.5 L278.9,196.0 L279.9,196.5 L280.9,197.1 L281.9,197.6 L282.9,198.2 L283.9,198.7 L284.9,199.3 L285.9,199.8 L286.9,200.4 L287.9,200.9 L288.9,201.4 L289.9,201.9 L290.9,202.5 L291.9,203.0 L292.9,203.5 L293.9,204.0 L294.9,204.5 L295.9,205.0 L296.9,205.5 L297.9,206.0 L298.9,206.5 L299.9,207.0 L300.9,207.4 L301.9,207.9 L302.9,208.4 L303.9,208.9 L304.9,209.4 L305.9,209.9 L306.9,210.3 L307.9,210.8 L308.9,211.2 L309.9,211.6 L310.9,211.9 L311.9,212.3 L312.9,212.6 L313.9,213.0 L314.9,213.3 L315.9,213.6 L316.9,213.9 L317.9,214.2 L318.9,214.4 L319.9,214.6 L320.9,214.8 L321.9,214.9 L322.9,215.1 L323.9,215.2 L324.9,215.4 L325.9,215.5 L326.9,215.6 L327.9,215.7 L328.9,215.7 L329.9,215.8 L330.9,215.8 L331.9,215.9 L332.9,215.9 L333.9,215.9 L334.9,215.9 L335.9,216.0 L336.9,216.0 L337.9,216.0 L338.9,216.0 L339.9,216.0 L340.9,216.0 L341.9,216.0 L342.9,216.0 L343.9,215.9 L344.9,215.9 L345.9,215.9 L346.9,215.9 L347.9,215.8 L348.9,215.8 L349.9,215.8 L350.9,215.8 L351.9,215.8 L352.9,215.8 L353.9,215.7 L354.9,215.7 L355.9,215.7 L356.9,215.7 L357.9,215.7 L358.9,215.7 L359.9,215.7 L360.9,215.7 L361.9,215.7 L362.9,215.8 L363.9,215.9 L364.9,216.0 L365.9,216.0 L366.9,216.2 L367.9,216.3 L368.9,216.4 L369.9,216.5 L370.9,216.6 L371.9,216.8 L372.9,216.9 L373.9,217.1 L374.9,217.3 L375.9,217.5 L376.9,217.7 L377.9,218.0 L378.9,218.2 L379.9,218.4 L380.9,218.6 L381.9,218.8 L382.9,219.0 L383.9,219.2 L384.9,219.5 L385.9,219.7 L386.9,219.9 L387.9,220.1 L388.9,220.4 L389.9,220.6 L390.9,220.8 L391.9,221.0 L392.9,221.2 L393.9,221.4 L394.9,221.6 L395.9,221.8 L396.9,222.0 L397.9,222.2 L398.9,222.4 L399.9,222.6 L400.9,222.8 L401.9,223.0 L402.9,223.3 L403.9,223.5 L404.9,223.7 L405.9,224.0 L406.9,224.2 L407.9,224.5 L408.9,224.7 L409.9,225.0 L410.9,225.2 L411.9,225.5 L412.9,225.7 L413.9,225.9 L414.9,226.2 L415.9,226.4 L416.9,226.7 L417.9,226.9 L418.9,227.1 L419.9,227.4 L420.9,227.6 L421.9,227.9 L422.9,228.1 L423.9,228.4 L424.9,228.6 L425.9,228.8 L426.9,229.1 L427.9,229.3 L428.9,229.6 L429.9,229.8 L430.9,230.0 L431.9,230.2 L432.9,230.4 L433.9,230.6 L434.9,230.8 L435.9,231.0 L436.9,231.2 L437.9,231.4 L438.9,231.6 L439.9,231.8 L440.9,232.0 L441.9,232.1 L442.9,232.3 L443.9,232.5 L444.9,232.6 L445.9,232.8 L446.9,232.9 L447.9,233.1 L448.9,233.2 L449.9,233.4 L450.9,233.5 L451.9,233.6 L452.9,233.8 L453.9,233.9 L454.9,234.0 L455.9,234.1 L456.9,234.2 L457.9,234.4 L458.9,234.5 L459.9,234.6 L460.9,234.7 L461.9,234.8 L462.9,234.9 L463.9,235.1 L464.9,235.2 L465.0,235.2 L465.0,236.0 Z" fill="#5CD9DE"/>
<path d="M53.9,236.0 L53.9,173.6 L54.9,171.5 L55.9,169.5 L56.9,167.5 L57.9,165.6 L58.9,163.7 L59.9,161.9 L60.9,160.1 L61.9,158.4 L62.9,156.7 L63.9,155.1 L64.9,153.6 L65.9,152.1 L66.9,150.7 L67.9,149.3 L68.9,148.0 L69.9,146.7 L70.9,145.4 L71.9,144.3 L72.9,143.2 L73.9,142.1 L74.9,141.1 L75.9,140.1 L76.9,139.2 L77.9,138.4 L78.9,137.6 L79.9,136.9 L80.9,136.2 L81.9,135.6 L82.9,135.0 L83.9,134.4 L84.9,133.9 L85.9,133.4 L86.9,133.0 L87.9,132.7 L88.9,132.4 L89.9,132.2 L90.9,131.9 L91.9,131.7 L92.9,131.6 L93.9,131.6 L94.9,131.6 L95.9,131.6 L96.9,131.6 L97.9,131.6 L98.9,131.6 L99.9,131.6 L100.9,131.7 L101.9,131.8 L102.9,131.9 L103.9,132.0 L104.9,132.1 L105.9,132.3 L106.9,132.4 L107.9,132.6 L108.9,132.8 L109.9,133.0 L110.9,133.2 L111.9,133.4 L112.9,133.6 L113.9,133.8 L114.9,134.1 L115.9,134.3 L116.9,134.6 L117.9,134.8 L118.9,135.1 L119.9,135.3 L120.9,135.5 L121.9,135.7 L122.9,135.9 L123.9,136.1 L124.9,136.4 L125.9,136.6 L126.9,136.8 L127.9,137.0 L128.9,137.1 L129.9,137.3 L130.9,137.5 L131.9,137.6 L132.9,137.7 L133.9,137.9 L134.9,138.0 L135.9,138.1 L136.9,138.2 L137.9,138.3 L138.9,138.4 L139.9,138.5 L140.9,138.6 L141.9,138.7 L142.9,138.7 L143.9,138.8 L144.9,138.8 L145.9,138.9 L146.9,138.9 L147.9,138.9 L148.9,139.0 L149.9,139.0 L150.9,139.0 L151.9,139.1 L152.9,139.1 L153.9,139.1 L154.9,139.1 L155.9,139.1 L156.9,139.1 L157.9,139.2 L158.9,139.2 L159.9,139.2 L160.9,139.2 L161.9,139.2 L162.9,139.2 L163.9,139.2 L164.9,139.3 L165.9,139.3 L166.9,139.3 L167.9,139.3 L168.9,139.4 L169.9,139.4 L170.9,139.4 L171.9,139.5 L172.9,139.5 L173.9,139.6 L174.9,139.6 L175.9,139.7 L176.9,139.8 L177.9,139.9 L178.9,140.0 L179.9,140.3 L180.9,140.5 L181.9,140.7 L182.9,140.9 L183.9,141.2 L184.9,141.4 L185.9,141.7 L186.9,141.9 L187.9,142.2 L188.9,142.5 L189.9,142.8 L190.9,143.2 L191.9,143.5 L192.9,143.9 L193.9,144.4 L194.9,144.8 L195.9,145.3 L196.9,145.8 L197.9,146.2 L198.9,146.7 L199.9,147.2 L200.9,147.7 L201.9,148.2 L202.9,148.7 L203.9,149.2 L204.9,149.8 L205.9,150.3 L206.9,150.9 L207.9,151.4 L208.9,152.0 L209.9,152.6 L210.9,153.2 L211.9,153.8 L212.9,154.4 L213.9,155.0 L214.9,155.6 L215.9,156.2 L216.9,156.9 L217.9,157.5 L218.9,158.1 L219.9,158.8 L220.9,159.4 L221.9,160.0 L222.9,160.7 L223.9,161.3 L224.9,162.0 L225.9,162.6 L226.9,163.3 L227.9,163.9 L228.9,164.6 L229.9,165.2 L230.9,165.9 L231.9,166.6 L232.9,167.3 L233.9,167.9 L234.9,168.6 L235.9,169.3 L236.9,170.0 L237.9,170.7 L238.9,171.4 L239.9,172.1 L240.9,172.8 L241.9,173.6 L242.9,174.3 L243.9,175.1 L244.9,175.8 L245.9,176.5 L246.9,177.3 L247.9,178.0 L248.9,178.7 L249.9,179.4 L250.9,180.1 L251.9,180.8 L252.9,181.5 L253.9,182.1 L254.9,182.8 L255.9,183.4 L256.9,184.1 L257.9,184.7 L258.9,185.3 L259.9,185.9 L260.9,186.5 L261.9,187.1 L262.9,187.7 L263.9,188.3 L264.9,188.8 L265.9,189.4 L266.9,190.0 L267.9,190.5 L268.9,191.0 L269.9,191.5 L270.9,192.1 L271.9,192.5 L272.9,193.0 L273.9,193.5 L274.9,194.0 L275.9,194.5 L276.9,194.9 L277.9,195.5 L278.9,196.0 L279.9,196.5 L280.9,197.1 L281.9,197.6 L282.9,198.2 L283.9,198.7 L284.9,199.3 L285.9,199.8 L286.9,200.4 L287.9,200.9 L288.9,201.4 L289.9,201.9 L290.9,202.5 L291.9,203.0 L292.9,203.5 L293.9,204.0 L294.9,204.5 L295.9,205.0 L296.9,205.5 L297.9,206.0 L298.9,206.5 L299.9,207.0 L300.9,207.4 L301.9,207.9 L302.9,208.4 L303.9,208.9 L304.9,209.4 L305.9,209.9 L306.9,210.3 L307.9,210.8 L308.9,211.2 L309.9,211.6 L310.9,211.9 L311.9,212.3 L312.9,212.6 L313.9,213.0 L314.9,213.3 L315.9,213.6 L316.9,213.9 L317.9,214.2 L318.9,214.4 L319.9,214.6 L320.9,214.8 L321.9,214.9 L322.9,215.1 L323.9,215.2 L324.9,215.4 L325.9,215.5 L326.9,215.6 L327.9,215.7 L328.9,215.7 L329.9,215.8 L330.9,215.8 L331.9,215.9 L332.9,215.9 L333.9,215.9 L334.9,215.9 L335.9,216.0 L336.9,216.0 L337.9,216.0 L338.9,216.0 L339.9,216.0 L340.9,216.0 L341.9,216.0 L342.9,216.0 L343.9,215.9 L344.9,215.9 L345.9,215.9 L346.9,215.9 L347.9,215.8 L348.9,215.8 L349.9,215.8 L350.9,215.8 L351.9,215.8 L352.9,215.8 L353.9,215.7 L354.9,215.7 L355.9,215.7 L356.9,215.7 L357.9,215.7 L358.9,215.7 L359.9,215.7 L360.9,215.7 L361.9,215.7 L362.9,215.8 L363.9,215.9 L364.9,216.0 L365.9,216.0 L366.9,216.2 L367.9,216.3 L368.9,216.4 L369.9,216.5 L370.9,216.6 L371.9,216.8 L372.9,216.9 L373.9,217.1 L374.9,217.3 L375.9,217.5 L376.9,217.7 L377.9,218.0 L378.9,218.2 L379.9,218.4 L380.9,218.6 L381.9,218.8 L382.9,219.0 L383.9,219.2 L384.9,219.5 L385.9,219.7 L386.9,219.9 L387.9,220.1 L388.9,220.4 L389.9,220.6 L390.9,220.8 L391.9,221.0 L392.9,221.2 L393.9,221.4 L394.9,221.6 L395.9,221.8 L396.9,222.0 L397.9,222.2 L398.9,222.4 L399.9,222.6 L400.9,222.8 L401.9,223.0 L402.9,223.3 L403.9,223.5 L404.9,223.7 L405.9,224.0 L406.9,224.2 L407.9,224.5 L408.9,224.7 L409.9,225.0 L410.9,225.2 L411.9,225.5 L412.9,225.7 L413.9,225.9 L414.9,226.2 L415.9,226.4 L416.9,226.7 L417.9,226.9 L418.9,227.1 L419.9,227.4 L420.9,227.6 L421.9,227.9 L422.9,228.1 L423.9,228.4 L424.9,228.6 L425.9,228.8 L426.9,229.1 L427.9,229.3 L428.9,229.6 L429.9,229.8 L430.9,230.0 L431.9,230.2 L432.9,230.4 L433.9,230.6 L434.9,230.8 L435.9,231.0 L436.9,231.2 L437.9,231.4 L438.9,231.6 L439.9,231.8 L440.9,232.0 L441.9,232.1 L442.9,232.3 L443.9,232.5 L444.9,232.6 L445.9,232.8 L446.9,232.9 L447.9,233.1 L448.9,233.2 L449.9,233.4 L450.9,233.5 L451.9,233.6 L452.9,233.8 L453.9,233.9 L454.9,234.0 L455.9,234.1 L456.9,234.2 L457.9,234.4 L458.9,234.5 L459.9,234.6 L460.9,234.7 L461.9,234.8 L462.9,234.9 L463.9,235.1 L464.9,235.2 L465.0,235.2 L465.0,236.0 Z" fill="#7ABCBB" clip-path="url(#ci)"/>
<g stroke="#ffffff" opacity="0.06" clip-path="url(#cu)">
<g stroke-width="0.55">
<line x1="33.3" x2="485.5" y1="200.6" y2="200.6"/>
<line x1="33.3" x2="485.5" y1="129.8" y2="129.8"/>
<line x1="33.3" x2="485.5" y1="59.1" y2="59.1"/>
<line x1="119.6" x2="119.6" y1="3.6" y2="247.3"/>
<line x1="252" x2="252" y1="3.6" y2="247.3"/>
<line x1="384.3" x2="384.3" y1="3.6" y2="247.3"/>
</g>
<g stroke-width="1.05">
<line x1="33.3" x2="485.5" y1="236" y2="236"/>
<line x1="33.3" x2="485.5" y1="165.2" y2="165.2"/>
<line x1="33.3" x2="485.5" y1="94.5" y2="94.5"/>
<line x1="33.3" x2="485.5" y1="23.9" y2="23.9"/>
<line x1="53.8" x2="53.8" y1="3.6" y2="247.3"/>
<line x1="186.1" x2="186.1" y1="3.6" y2="247.3"/>
<line x1="318.4" x2="318.4" y1="3.6" y2="247.3"/>
<line x1="450.7" x2="450.7" y1="3.6" y2="247.3"/>
</g>
</g>
<path d="M53.9,200.7 L54.9,199.7 L55.9,198.8 L56.9,197.9 L57.9,197.0 L58.9,196.2 L59.9,195.4 L60.9,194.6 L61.9,193.8 L62.9,193.0 L63.9,192.3 L64.9,191.7 L65.9,191.1 L66.9,190.6 L67.9,190.2 L68.9,189.8 L69.9,189.4 L70.9,189.1 L71.9,188.8 L72.9,188.6 L73.9,188.4 L74.9,188.2 L75.9,188.1 L76.9,188.0 L77.9,187.9 L78.9,187.8 L79.9,187.8 L80.9,187.8 L81.9,187.7 L82.9,187.7 L83.9,187.7 L84.9,187.7 L85.9,187.7 L86.9,187.7 L87.9,187.7 L88.9,187.6 L89.9,187.6 L90.9,187.6 L91.9,187.5 L92.9,187.5 L93.9,187.4 L94.9,187.4 L95.9,187.3 L96.9,187.3 L97.9,187.2 L98.9,187.1 L99.9,187.0 L100.9,186.9 L101.9,186.8 L102.9,186.6 L103.9,186.4 L104.9,186.2 L105.9,186.0 L106.9,185.7 L107.9,185.5 L108.9,185.3 L109.9,185.0 L110.9,184.8 L111.9,184.5 L112.9,184.3 L113.9,184.0 L114.9,183.8 L115.9,183.5 L116.9,183.2 L117.9,182.9 L118.9,182.7 L119.9,182.4 L120.9,182.2 L121.9,181.9 L122.9,181.7 L123.9,181.5 L124.9,181.2 L125.9,181.0 L126.9,180.7 L127.9,180.5 L128.9,180.3 L129.9,180.0 L130.9,179.8 L131.9,179.6 L132.9,179.3 L133.9,179.1 L134.9,178.9 L135.9,178.7 L136.9,178.4 L137.9,178.2 L138.9,177.9 L139.9,177.6 L140.9,177.3 L141.9,177.0 L142.9,176.7 L143.9,176.3 L144.9,176.0 L145.9,175.6 L146.9,175.2 L147.9,174.8 L148.9,174.5 L149.9,174.1 L150.9,173.7 L151.9,173.3 L152.9,172.8 L153.9,172.4 L154.9,171.9 L155.9,171.4 L156.9,170.8 L157.9,170.2 L158.9,169.6 L159.9,168.9 L160.9,168.1 L161.9,167.2 L162.9,166.3 L163.9,165.2 L164.9,164.1 L165.9,162.9 L166.9,161.6 L167.9,160.2 L168.9,158.6 L169.9,157.0 L170.9,155.2 L171.9,153.3 L172.9,151.3 L173.9,149.1 L174.9,146.8 L175.9,144.5 L176.9,142.2 L177.9,139.9 L178.9,137.6 L179.9,135.4 L180.9,133.1 L181.9,130.8 L182.9,128.5 L183.9,126.2 L184.9,123.7 L185.9,121.0 L186.9,118.1 L187.9,114.9 L188.9,111.4 L189.9,107.7 L190.9,104.0 L191.9,100.4 L192.9,96.9 L193.9,93.5 L194.9,90.1 L195.9,86.7 L196.9,83.3 L197.9,79.9 L198.9,76.6 L199.9,73.2 L200.9,69.9 L201.9,66.6 L202.9,63.3 L203.9,60.1 L204.9,57.0 L205.9,54.0 L206.9,51.0 L207.9,48.0 L208.9,44.9 L209.9,41.9 L210.9,38.9 L211.9,36.0 L212.9,33.4 L213.9,31.1 L214.9,29.0 L215.9,26.9 L216.9,24.9 L217.9,23.0 L218.9,21.4 L219.9,19.9 L220.9,18.5 L221.9,17.3 L222.9,16.3 L223.9,15.6 L224.9,15.0 L225.9,14.7 L226.9,14.5 L227.9,14.6 L228.9,14.9 L229.9,15.4 L230.9,16.2 L231.9,17.3 L232.9,18.6 L233.9,20.2 L234.9,21.9 L235.9,24.0 L236.9,26.2 L237.9,28.5 L238.9,31.0 L239.9,33.8 L240.9,36.8 L241.9,39.7 L242.9,42.7 L243.9,46.0 L244.9,49.9 L245.9,54.2 L246.9,58.8 L247.9,63.7 L248.9,69.0 L249.9,74.4 L250.9,79.4 L251.9,83.9 L252.9,88.3 L253.9,92.7 L254.9,97.3 L255.9,102.5 L256.9,108.0 L257.9,112.8 L258.9,117.3 L259.9,121.9 L260.9,126.8 L261.9,131.7 L262.9,136.9 L263.9,142.2 L264.9,147.9 L265.9,153.5 L266.9,158.4 L267.9,162.9 L268.9,167.1 L269.9,171.2 L270.9,175.0 L271.9,178.7 L272.9,182.2 L273.9,185.7 L274.9,189.2 L275.9,192.6 L276.9,195.6 L277.9,198.1 L278.9,200.4 L279.9,202.8 L280.9,205.2 L281.9,207.8 L282.9,210.3 L283.9,212.7 L284.9,214.8 L285.9,216.7 L286.9,218.4 L287.9,220.1 L288.9,221.5 L289.9,222.9 L290.9,224.1 L291.9,225.2 L292.9,226.2 L293.9,227.1 L294.9,227.9 L295.9,228.7 L296.9,229.5 L297.9,230.2 L298.9,230.8 L299.9,231.3 L300.9,231.8 L301.9,232.3 L302.9,232.7 L303.9,233.0 L304.9,233.4 L305.9,233.7 L306.9,233.9 L307.9,234.2 L308.9,234.4 L309.9,234.6 L310.9,234.7 L311.9,234.9 L312.9,235.0 L313.9,235.1 L314.9,235.2 L315.9,235.3 L316.9,235.4 L317.9,235.5 L318.9,235.5 L319.9,235.6 L320.9,235.7 L321.9,235.7 L322.9,235.8 L323.9,235.8 L324.9,235.9 L325.9,235.9 L326.9,235.9 L327.9,236.0 L328.9,236.0 L329.9,236.0 L330.9,236.0 L331.9,236.0 L332.9,236.0 L333.9,236.0 L334.9,236.0 L335.9,236.0 L336.9,236.0 L337.9,236.0 L338.9,236.0 L339.9,236.0 L340.9,236.0 L341.9,236.0 L342.9,236.0 L343.9,236.0 L344.9,236.0 L345.9,236.0 L346.9,236.0 L347.9,236.0 L348.9,236.0 L349.9,236.0 L350.9,236.0 L351.9,236.0 L352.9,236.0 L353.9,236.0 L354.9,236.0 L355.9,236.0 L356.9,236.0 L357.9,236.0 L358.9,236.0 L359.9,236.0 L360.9,236.0 L361.9,236.0 L362.9,236.0 L363.9,236.0 L364.9,236.0 L365.9,236.0 L366.9,236.0 L367.9,236.0 L368.9,236.0 L369.9,236.0 L370.9,236.0 L371.9,236.0 L372.9,236.0 L373.9,236.0 L374.9,236.0 L375.9,236.0 L376.9,236.0 L377.9,236.0 L378.9,236.0 L379.9,236.0 L380.9,236.0 L381.9,236.0 L382.9,236.0 L383.9,236.0 L384.9,236.0 L385.9,236.0 L386.9,236.0 L387.9,236.0 L388.9,236.0 L389.9,236.0 L390.9,236.0 L391.9,236.0 L392.9,236.0 L393.9,236.0 L394.9,236.0 L395.9,236.0 L396.9,236.0 L397.9,236.0 L398.9,236.0 L399.9,236.0 L400.9,236.0 L401.9,236.0 L402.9,236.0 L403.9,236.0 L404.9,236.0 L405.9,236.0 L406.9,236.0 L407.9,236.0 L408.9,236.0 L409.9,236.0 L410.9,236.0 L411.9,236.0 L412.9,236.0 L413.9,236.0 L414.9,236.0 L415.9,236.0 L416.9,236.0 L417.9,236.0 L418.9,236.0 L419.9,236.0 L420.9,236.0 L421.9,236.0 L422.9,236.0 L423.9,236.0 L424.9,236.0 L425.9,236.0 L426.9,236.0 L427.9,236.0 L428.9,236.0 L429.9,236.0 L430.9,236.0 L431.9,236.0 L432.9,236.0 L433.9,236.0 L434.9,236.0 L435.9,236.0 L436.9,236.0 L437.9,236.0 L438.9,236.0 L439.9,236.0 L440.9,236.0 L441.9,236.0 L442.9,236.0 L443.9,236.0 L444.9,236.0 L445.9,236.0 L446.9,236.0 L447.9,236.0 L448.9,236.0 L449.9,236.0 L450.9,236.0 L451.9,236.0 L452.9,236.0 L453.9,236.0 L454.9,236.0 L455.9,236.0 L456.9,236.0 L457.9,236.0 L458.9,236.0 L459.9,236.0 L460.9,236.0 L461.9,236.0 L462.9,236.0 L463.9,236.0 L464.9,236.0 L465.0,236.0" fill="none" stroke="#000000" stroke-width="1.2" stroke-linejoin="round"/>
<path d="M53.9,200.7 L54.9,199.7 L55.9,198.8 L56.9,197.9 L57.9,197.0 L58.9,196.2 L59.9,195.4 L60.9,194.6 L61.9,193.8 L62.9,193.0 L63.9,192.3 L64.9,191.7 L65.9,191.1 L66.9,190.6 L67.9,190.2 L68.9,189.8 L69.9,189.4 L70.9,189.1 L71.9,188.8 L72.9,188.6 L73.9,188.4 L74.9,188.2 L75.9,188.1 L76.9,188.0 L77.9,187.9 L78.9,187.8 L79.9,187.8 L80.9,187.8 L81.9,187.7 L82.9,187.7 L83.9,187.7 L84.9,187.7 L85.9,187.7 L86.9,187.7 L87.9,187.7 L88.9,187.6 L89.9,187.6 L90.9,187.6 L91.9,187.5 L92.9,187.5 L93.9,187.4 L94.9,187.4 L95.9,187.3 L96.9,187.3 L97.9,187.2 L98.9,187.1 L99.9,187.0 L100.9,186.9 L101.9,186.8 L102.9,186.6 L103.9,186.4 L104.9,186.2 L105.9,186.0 L106.9,185.7 L107.9,185.5 L108.9,185.3 L109.9,185.0 L110.9,184.8 L111.9,184.5 L112.9,184.3 L113.9,184.0 L114.9,183.8 L115.9,183.5 L116.9,183.2 L117.9,182.9 L118.9,182.7 L119.9,182.4 L120.9,182.2 L121.9,181.9 L122.9,181.7 L123.9,181.5 L124.9,181.2 L125.9,181.0 L126.9,180.7 L127.9,180.5 L128.9,180.3 L129.9,180.0 L130.9,179.8 L131.9,179.6 L132.9,179.3 L133.9,179.1 L134.9,178.9 L135.9,178.7 L136.9,178.4 L137.9,178.2 L138.9,177.9 L139.9,177.6 L140.9,177.3 L141.9,177.0 L142.9,176.7 L143.9,176.3 L144.9,176.0 L145.9,175.6 L146.9,175.2 L147.9,174.8 L148.9,174.5 L149.9,174.1 L150.9,173.7 L151.9,173.3 L152.9,172.8 L153.9,172.4 L154.9,171.9 L155.9,171.4 L156.9,170.8 L157.9,170.2 L158.9,169.6 L159.9,168.9 L160.9,168.1 L161.9,167.2 L162.9,166.3 L163.9,165.2 L164.9,164.1 L165.9,162.9 L166.9,161.6 L167.9,160.2 L168.9,158.6 L169.9,157.0 L170.9,155.2 L171.9,153.3 L172.9,151.3 L173.9,149.1 L174.9,146.8 L175.9,144.5 L176.9,142.2 L177.9,139.9 L178.9,137.6 L179.9,135.4 L180.9,133.1 L181.9,130.8 L182.9,128.5 L183.9,126.2 L184.9,123.7 L185.9,121.0 L186.9,118.1 L187.9,114.9 L188.9,111.4 L189.9,107.7 L190.9,104.0 L191.9,100.4 L192.9,96.9 L193.9,93.5 L194.9,90.1 L195.9,86.7 L196.9,83.3 L197.9,79.9 L198.9,76.6 L199.9,73.2 L200.9,69.9 L201.9,66.6 L202.9,63.3 L203.9,60.1 L204.9,57.0 L205.9,54.0 L206.9,51.0 L207.9,48.0 L208.9,44.9 L209.9,41.9 L210.9,38.9 L211.9,36.0 L212.9,33.4 L213.9,31.1 L214.9,29.0 L215.9,26.9 L216.9,24.9 L217.9,23.0 L218.9,21.4 L219.9,19.9 L220.9,18.5 L221.9,17.3 L222.9,16.3 L223.9,15.6 L224.9,15.0 L225.9,14.7 L226.9,14.5 L227.9,14.6 L228.9,14.9 L229.9,15.4 L230.9,16.2 L231.9,17.3 L232.9,18.6 L233.9,20.2 L234.9,21.9 L235.9,24.0 L236.9,26.2 L237.9,28.5 L238.9,31.0 L239.9,33.8 L240.9,36.8 L241.9,39.7 L242.9,42.7 L243.9,46.0 L244.9,49.9 L245.9,54.2 L246.9,58.8 L247.9,63.7 L248.9,69.0 L249.9,74.4 L250.9,79.4 L251.9,83.9 L252.9,88.3 L253.9,92.7 L254.9,97.3 L255.9,102.5 L256.9,108.0 L257.9,112.8 L258.9,117.3 L259.9,121.9 L260.9,126.8 L261.9,131.7 L262.9,136.9 L263.9,142.2 L264.9,147.9 L265.9,153.5 L266.9,158.4 L267.9,162.9 L268.9,167.1 L269.9,171.2 L270.9,175.0 L271.9,178.7 L272.9,182.2 L273.9,185.7 L274.9,189.2 L275.9,192.6 L276.9,195.6 L277.9,198.1 L278.9,200.4 L279.9,202.8 L280.9,205.2 L281.9,207.8 L282.9,210.3 L283.9,212.7 L284.9,214.8 L285.9,216.7 L286.9,218.4 L287.9,220.1 L288.9,221.5 L289.9,222.9 L290.9,224.1 L291.9,225.2 L292.9,226.2 L293.9,227.1 L294.9,227.9 L295.9,228.7 L296.9,229.5 L297.9,230.2 L298.9,230.8 L299.9,231.3 L300.9,231.8 L301.9,232.3 L302.9,232.7 L303.9,233.0 L304.9,233.4 L305.9,233.7 L306.9,233.9 L307.9,234.2 L308.9,234.4 L309.9,234.6 L310.9,234.7 L311.9,234.9 L312.9,235.0 L313.9,235.1 L314.9,235.2 L315.9,235.3 L316.9,235.4 L317.9,235.5 L318.9,235.5 L319.9,235.6 L320.9,235.7 L321.9,235.7 L322.9,235.8 L323.9,235.8 L324.9,235.9 L325.9,235.9 L326.9,235.9 L327.9,236.0 L328.9,236.0 L329.9,236.0 L330.9,236.0 L331.9,236.0 L332.9,236.0 L333.9,236.0 L334.9,236.0 L335.9,236.0 L336.9,236.0 L337.9,236.0 L338.9,236.0 L339.9,236.0 L340.9,236.0 L341.9,236.0 L342.9,236.0 L343.9,236.0 L344.9,236.0 L345.9,236.0 L346.9,236.0 L347.9,236.0 L348.9,236.0 L349.9,236.0 L350.9,236.0 L351.9,236.0 L352.9,236.0 L353.9,236.0 L354.9,236.0 L355.9,236.0 L356.9,236.0 L357.9,236.0 L358.9,236.0 L359.9,236.0 L360.9,236.0 L361.9,236.0 L362.9,236.0 L363.9,236.0 L364.9,236.0 L365.9,236.0 L366.9,236.0 L367.9,236.0 L368.9,236.0 L369.9,236.0 L370.9,236.0 L371.9,236.0 L372.9,236.0 L373.9,236.0 L374.9,236.0 L375.9,236.0 L376.9,236.0 L377.9,236.0 L378.9,236.0 L379.9,236.0 L380.9,236.0 L381.9,236.0 L382.9,236.0 L383.9,236.0 L384.9,236.0 L385.9,236.0 L386.9,236.0 L387.9,236.0 L388.9,236.0 L389.9,236.0 L390.9,236.0 L391.9,236.0 L392.9,236.0 L393.9,236.0 L394.9,236.0 L395.9,236.0 L396.9,236.0 L397.9,236.0 L398.9,236.0 L399.9,236.0 L400.9,236.0 L401.9,236.0 L402.9,236.0 L403.9,236.0 L404.9,236.0 L405.9,236.0 L406.9,236.0 L407.9,236.0 L408.9,236.0 L409.9,236.0 L410.9,236.0 L411.9,236.0 L412.9,236.0 L413.9,236.0 L414.9,236.0 L415.9,236.0 L416.9,236.0 L417.9,236.0 L418.9,236.0 L419.9,236.0 L420.9,236.0 L421.9,236.0 L422.9,236.0 L423.9,236.0 L424.9,236.0 L425.9,236.0 L426.9,236.0 L427.9,236.0 L428.9,236.0 L429.9,236.0 L430.9,236.0 L431.9,236.0 L432.9,236.0 L433.9,236.0 L434.9,236.0 L435.9,236.0 L436.9,236.0 L437.9,236.0 L438.9,236.0 L439.9,236.0 L440.9,236.0 L441.9,236.0 L442.9,236.0 L443.9,236.0 L444.9,236.0 L445.9,236.0 L446.9,236.0 L447.9,236.0 L448.9,236.0 L449.9,236.0 L450.9,236.0 L451.9,236.0 L452.9,236.0 L453.9,236.0 L454.9,236.0 L455.9,236.0 L456.9,236.0 L457.9,236.0 L458.9,236.0 L459.9,236.0 L460.9,236.0 L461.9,236.0 L462.9,236.0 L463.9,236.0 L464.9,236.0 L465.0,236.0" fill="none" stroke="#0a6a70" stroke-width="1.35" stroke-linejoin="round" clip-path="url(#ct)"/>
<path d="M53.9,173.6 L54.9,171.5 L55.9,169.5 L56.9,167.5 L57.9,165.6 L58.9,163.7 L59.9,161.9 L60.9,160.1 L61.9,158.4 L62.9,156.7 L63.9,155.1 L64.9,153.6 L65.9,152.1 L66.9,150.7 L67.9,149.3 L68.9,148.0 L69.9,146.7 L70.9,145.4 L71.9,144.3 L72.9,143.2 L73.9,142.1 L74.9,141.1 L75.9,140.1 L76.9,139.2 L77.9,138.4 L78.9,137.6 L79.9,136.9 L80.9,136.2 L81.9,135.6 L82.9,135.0 L83.9,134.4 L84.9,133.9 L85.9,133.4 L86.9,133.0 L87.9,132.7 L88.9,132.4 L89.9,132.2 L90.9,131.9 L91.9,131.7 L92.9,131.6 L93.9,131.6 L94.9,131.6 L95.9,131.6 L96.9,131.6 L97.9,131.6 L98.9,131.6 L99.9,131.6 L100.9,131.7 L101.9,131.8 L102.9,131.9 L103.9,132.0 L104.9,132.1 L105.9,132.3 L106.9,132.4 L107.9,132.6 L108.9,132.8 L109.9,133.0 L110.9,133.2 L111.9,133.4 L112.9,133.6 L113.9,133.8 L114.9,134.1 L115.9,134.3 L116.9,134.6 L117.9,134.8 L118.9,135.1 L119.9,135.3 L120.9,135.5 L121.9,135.7 L122.9,135.9 L123.9,136.1 L124.9,136.4 L125.9,136.6 L126.9,136.8 L127.9,137.0 L128.9,137.1 L129.9,137.3 L130.9,137.5 L131.9,137.6 L132.9,137.7 L133.9,137.9 L134.9,138.0 L135.9,138.1 L136.9,138.2 L137.9,138.3 L138.9,138.4 L139.9,138.5 L140.9,138.6 L141.9,138.7 L142.9,138.7 L143.9,138.8 L144.9,138.8 L145.9,138.9 L146.9,138.9 L147.9,138.9 L148.9,139.0 L149.9,139.0 L150.9,139.0 L151.9,139.1 L152.9,139.1 L153.9,139.1 L154.9,139.1 L155.9,139.1 L156.9,139.1 L157.9,139.2 L158.9,139.2 L159.9,139.2 L160.9,139.2 L161.9,139.2 L162.9,139.2 L163.9,139.2 L164.9,139.3 L165.9,139.3 L166.9,139.3 L167.9,139.3 L168.9,139.4 L169.9,139.4 L170.9,139.4 L171.9,139.5 L172.9,139.5 L173.9,139.6 L174.9,139.6 L175.9,139.7 L176.9,139.8 L177.9,139.9 L178.9,140.0 L179.9,140.3 L180.9,140.5 L181.9,140.7 L182.9,140.9 L183.9,141.2 L184.9,141.4 L185.9,141.7 L186.9,141.9 L187.9,142.2 L188.9,142.5 L189.9,142.8 L190.9,143.2 L191.9,143.5 L192.9,143.9 L193.9,144.4 L194.9,144.8 L195.9,145.3 L196.9,145.8 L197.9,146.2 L198.9,146.7 L199.9,147.2 L200.9,147.7 L201.9,148.2 L202.9,148.7 L203.9,149.2 L204.9,149.8 L205.9,150.3 L206.9,150.9 L207.9,151.4 L208.9,152.0 L209.9,152.6 L210.9,153.2 L211.9,153.8 L212.9,154.4 L213.9,155.0 L214.9,155.6 L215.9,156.2 L216.9,156.9 L217.9,157.5 L218.9,158.1 L219.9,158.8 L220.9,159.4 L221.9,160.0 L222.9,160.7 L223.9,161.3 L224.9,162.0 L225.9,162.6 L226.9,163.3 L227.9,163.9 L228.9,164.6 L229.9,165.2 L230.9,165.9 L231.9,166.6 L232.9,167.3 L233.9,167.9 L234.9,168.6 L235.9,169.3 L236.9,170.0 L237.9,170.7 L238.9,171.4 L239.9,172.1 L240.9,172.8 L241.9,173.6 L242.9,174.3 L243.9,175.1 L244.9,175.8 L245.9,176.5 L246.9,177.3 L247.9,178.0 L248.9,178.7 L249.9,179.4 L250.9,180.1 L251.9,180.8 L252.9,181.5 L253.9,182.1 L254.9,182.8 L255.9,183.4 L256.9,184.1 L257.9,184.7 L258.9,185.3 L259.9,185.9 L260.9,186.5 L261.9,187.1 L262.9,187.7 L263.9,188.3 L264.9,188.8 L265.9,189.4 L266.9,190.0 L267.9,190.5 L268.9,191.0 L269.9,191.5 L270.9,192.1 L271.9,192.5 L272.9,193.0 L273.9,193.5 L274.9,194.0 L275.9,194.5 L276.9,194.9 L277.9,195.5 L278.9,196.0 L279.9,196.5 L280.9,197.1 L281.9,197.6 L282.9,198.2 L283.9,198.7 L284.9,199.3 L285.9,199.8 L286.9,200.4 L287.9,200.9 L288.9,201.4 L289.9,201.9 L290.9,202.5 L291.9,203.0 L292.9,203.5 L293.9,204.0 L294.9,204.5 L295.9,205.0 L296.9,205.5 L297.9,206.0 L298.9,206.5 L299.9,207.0 L300.9,207.4 L301.9,207.9 L302.9,208.4 L303.9,208.9 L304.9,209.4 L305.9,209.9 L306.9,210.3 L307.9,210.8 L308.9,211.2 L309.9,211.6 L310.9,211.9 L311.9,212.3 L312.9,212.6 L313.9,213.0 L314.9,213.3 L315.9,213.6 L316.9,213.9 L317.9,214.2 L318.9,214.4 L319.9,214.6 L320.9,214.8 L321.9,214.9 L322.9,215.1 L323.9,215.2 L324.9,215.4 L325.9,215.5 L326.9,215.6 L327.9,215.7 L328.9,215.7 L329.9,215.8 L330.9,215.8 L331.9,215.9 L332.9,215.9 L333.9,215.9 L334.9,215.9 L335.9,216.0 L336.9,216.0 L337.9,216.0 L338.9,216.0 L339.9,216.0 L340.9,216.0 L341.9,216.0 L342.9,216.0 L343.9,215.9 L344.9,215.9 L345.9,215.9 L346.9,215.9 L347.9,215.8 L348.9,215.8 L349.9,215.8 L350.9,215.8 L351.9,215.8 L352.9,215.8 L353.9,215.7 L354.9,215.7 L355.9,215.7 L356.9,215.7 L357.9,215.7 L358.9,215.7 L359.9,215.7 L360.9,215.7 L361.9,215.7 L362.9,215.8 L363.9,215.9 L364.9,216.0 L365.9,216.0 L366.9,216.2 L367.9,216.3 L368.9,216.4 L369.9,216.5 L370.9,216.6 L371.9,216.8 L372.9,216.9 L373.9,217.1 L374.9,217.3 L375.9,217.5 L376.9,217.7 L377.9,218.0 L378.9,218.2 L379.9,218.4 L380.9,218.6 L381.9,218.8 L382.9,219.0 L383.9,219.2 L384.9,219.5 L385.9,219.7 L386.9,219.9 L387.9,220.1 L388.9,220.4 L389.9,220.6 L390.9,220.8 L391.9,221.0 L392.9,221.2 L393.9,221.4 L394.9,221.6 L395.9,221.8 L396.9,222.0 L397.9,222.2 L398.9,222.4 L399.9,222.6 L400.9,222.8 L401.9,223.0 L402.9,223.3 L403.9,223.5 L404.9,223.7 L405.9,224.0 L406.9,224.2 L407.9,224.5 L408.9,224.7 L409.9,225.0 L410.9,225.2 L411.9,225.5 L412.9,225.7 L413.9,225.9 L414.9,226.2 L415.9,226.4 L416.9,226.7 L417.9,226.9 L418.9,227.1 L419.9,227.4 L420.9,227.6 L421.9,227.9 L422.9,228.1 L423.9,228.4 L424.9,228.6 L425.9,228.8 L426.9,229.1 L427.9,229.3 L428.9,229.6 L429.9,229.8 L430.9,230.0 L431.9,230.2 L432.9,230.4 L433.9,230.6 L434.9,230.8 L435.9,231.0 L436.9,231.2 L437.9,231.4 L438.9,231.6 L439.9,231.8 L440.9,232.0 L441.9,232.1 L442.9,232.3 L443.9,232.5 L444.9,232.6 L445.9,232.8 L446.9,232.9 L447.9,233.1 L448.9,233.2 L449.9,233.4 L450.9,233.5 L451.9,233.6 L452.9,233.8 L453.9,233.9 L454.9,234.0 L455.9,234.1 L456.9,234.2 L457.9,234.4 L458.9,234.5 L459.9,234.6 L460.9,234.7 L461.9,234.8 L462.9,234.9 L463.9,235.1 L464.9,235.2 L465.0,235.2" fill="none" stroke="#000000" stroke-width="1.2" stroke-linejoin="round"/>
<!-- vlines -->
<defs>
<clipPath id="r1"><rect x="180" y="0" width="20" height="105.5"/></clipPath>
<clipPath id="r2"><rect x="180" y="105.5" width="20" height="37.8"/></clipPath>
<clipPath id="r3"><rect x="180" y="143.3" width="20" height="110"/></clipPath>
</defs>
<line x1="175.4" x2="175.4" y1="247.05" y2="3.6" stroke="#00BFC4" stroke-width="1.25" stroke-dasharray="1.1 3.047" opacity="0.95"/>
<line x1="190.4" x2="190.4" y1="247.05" y2="3.6" stroke="#FC766C" stroke-width="1.25" stroke-dasharray="1.1 3.047" opacity="0.9" clip-path="url(#r1)"/>
<line x1="190.4" x2="190.4" y1="247.05" y2="3.6" stroke="#FC766C" stroke-width="1.25" stroke-dasharray="1.1 3.047" opacity="0.5" clip-path="url(#r2)"/>
<line x1="190.4" x2="190.4" y1="247.05" y2="3.6" stroke="#FC766C" stroke-width="1.25" stroke-dasharray="1.1 3.047" opacity="0.8" clip-path="url(#r3)"/>

<line x1="285.5" x2="285.5" y1="3.6" y2="247.3" stroke="#FC766C" stroke-width="1.1"/>
<line x1="384.7" x2="384.7" y1="3.6" y2="247.3" stroke="#00BFC4" stroke-width="1.2"/>
<!-- labels -->
<rect x="262.9" y="107.7" width="45" height="15" rx="2.2" ry="2.2" fill="#FC766C" stroke="#222" stroke-width="0.7"/>
<text x="285.5" y="119.5" font-size="10.6" text-anchor="middle" fill="#000" stroke="#000" stroke-width="0.2">7−years</text>
<rect x="359.2" y="107.7" width="50.4" height="15" rx="2.2" ry="2.2" fill="#00BFC4" stroke="#222" stroke-width="0.7"/>
<text x="384.9" y="119.5" font-size="10.6" text-anchor="middle" fill="#000" stroke="#000" stroke-width="0.2">10−years</text>
<!-- ticks -->
<g stroke="#333333" stroke-width="1.05">
<line x1="30.6" x2="33.3" y1="236" y2="236"/>
<line x1="30.6" x2="33.3" y1="165.2" y2="165.2"/>
<line x1="30.6" x2="33.3" y1="94.5" y2="94.5"/>
<line x1="30.6" x2="33.3" y1="23.9" y2="23.9"/>
<line x1="53.8" x2="53.8" y1="247.3" y2="250.1"/>
<line x1="186.1" x2="186.1" y1="247.3" y2="250.1"/>
<line x1="318.4" x2="318.4" y1="247.3" y2="250.1"/>
<line x1="450.7" x2="450.7" y1="247.3" y2="250.1"/>
</g>
<g font-size="8.55" fill="#4d4d4d" text-anchor="end">
<text x="28.4" y="239">0.0</text>
<text x="28.4" y="168.2">0.1</text>
<text x="28.4" y="97.5">0.2</text>
<text x="28.4" y="26.9">0.3</text>
</g>
<g font-size="8.55" fill="#4d4d4d" text-anchor="middle">
<text x="53.8" y="258.0">0</text>
<text x="186" y="258.0">4</text>
<text x="318.4" y="258.0">8</text>
<text x="450.7" y="258.0">12</text>
</g>
<text x="259.1" y="271.1" font-size="10.66" text-anchor="middle" fill="#000" stroke="#000" stroke-width="0.18">Overall Survival (years) after diagnose</text>
<text transform="translate(10.9,125.2) rotate(-90)" font-size="10.45" text-anchor="middle" fill="#000" stroke="#000" stroke-width="0.18">Density</text>
<!-- legend -->
<text x="501.8" y="110.3" font-size="10.5" fill="#000" stroke="#000" stroke-width="0.18">Datasets</text>
<rect x="501.2" y="116.8" width="16.9" height="16.6" fill="#FC766C"/>
<rect x="501.2" y="133.4" width="16.9" height="16.6" fill="#00BFC4"/>
<text x="523.8" y="127.9" font-size="8.6" fill="#000" stroke="#000" stroke-width="0.18">ICGC</text>
<text x="523.8" y="144.6" font-size="8.6" fill="#000" stroke="#000" stroke-width="0.18">TCGA</text>
</svg>
</body></html>
